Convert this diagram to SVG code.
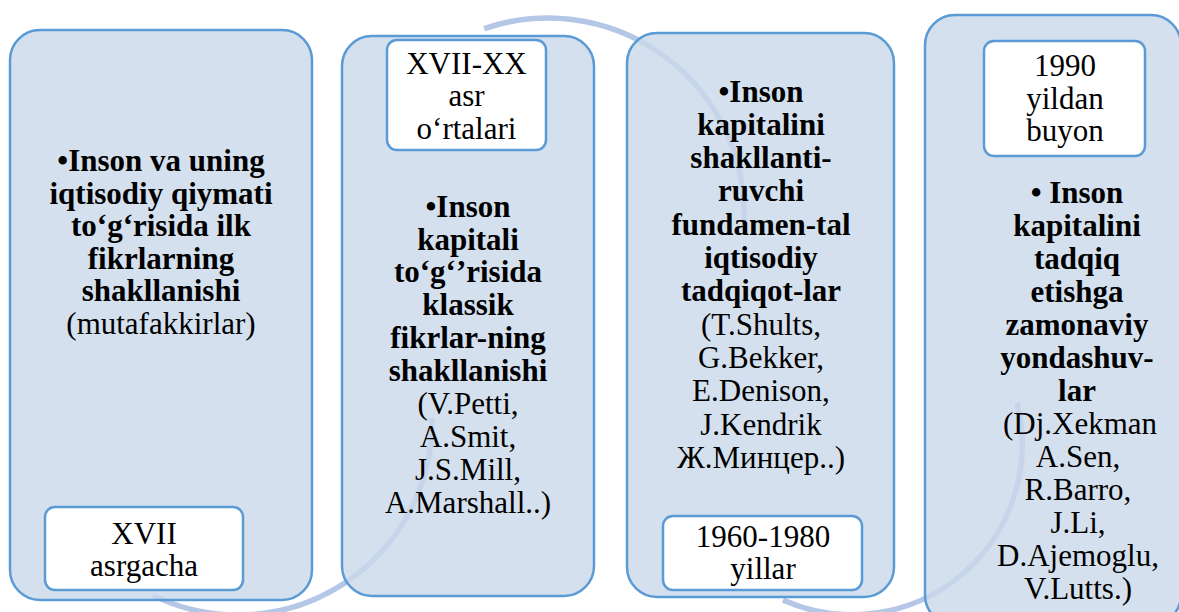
<svg xmlns="http://www.w3.org/2000/svg" width="1179" height="612" viewBox="0 0 1179 612">
<style>
.box{fill:#CBD8EA;fill-opacity:0.8;stroke:#5B9BD5;stroke-width:2.5}
.lbl{fill:#FFFFFF;stroke:#5B9BD5;stroke-width:2.5}
.arc{fill:none;stroke:#B4C7E7;stroke-width:5.5}
.t{font-family:'Liberation Serif','Times New Roman','Tinos','Noto Serif','DejaVu Serif','Nimbus Roman','Nimbus Roman No9 L','FreeSerif','Times',serif;font-size:31px;fill:#000;text-anchor:middle}
.b{font-weight:bold}
</style>
<rect width="1179" height="612" fill="#FFFFFF"/>
<g id="connectors">
<path class="arc" d="M153,595.4 A194,194 0 0 0 432,417.6"/>
<path class="arc" d="M484.2,28.7 A196,196 0 0 1 744,221"/>
<path class="arc" d="M783,600 A170,170 0 0 0 1017,403"/>
</g>
<g id="node1" class="t">
<rect class="box" x="10" y="30" width="302" height="570" rx="30"/>
<text class="b" x="161" y="171">•Inson va uning</text>
<text class="b" x="161" y="204">iqtisodiy qiymati</text>
<text class="b" x="161" y="236">to‘g‘risida ilk</text>
<text class="b" x="161" y="269">fikrlarning</text>
<text class="b" x="161" y="301">shakllanishi</text>
<text x="161" y="334">(mutafakkirlar)</text>
</g>
<g id="label1" class="t">
<rect class="lbl" x="45" y="507" width="198" height="83" rx="10"/>
<text x="144" y="544">XVII</text>
<text x="144" y="576">asrgacha</text>
</g>
<g id="node2" class="t">
<rect class="box" x="342" y="36" width="252" height="560" rx="30"/>
<text class="b" x="468" y="217">•Inson</text>
<text class="b" x="468" y="250">kapitali</text>
<text class="b" x="468" y="282">to‘g‘’risida</text>
<text class="b" x="468" y="315">klassik</text>
<text class="b" x="468" y="348">fikrlar-ning</text>
<text class="b" x="468" y="381">shakllanishi</text>
<text x="468" y="414">(V.Petti,</text>
<text x="468" y="447">A.Smit,</text>
<text x="468" y="480">J.S.Mill,</text>
<text x="468" y="513">A.Marshall..)</text>
</g>
<g id="label2" class="t">
<rect class="lbl" x="387" y="40" width="159" height="110" rx="10"/>
<text x="466.5" y="74">XVII-XX</text>
<text x="466.5" y="106">asr</text>
<text x="466.5" y="139">o‘rtalari</text>
</g>
<g id="node3" class="t">
<rect class="box" x="627" y="33" width="267" height="564" rx="30"/>
<text class="b" x="761" y="102">•Inson</text>
<text class="b" x="761" y="135">kapitalini</text>
<text class="b" x="761" y="168">shakllanti-</text>
<text class="b" x="761" y="201">ruvchi</text>
<text class="b" x="761" y="235">fundamen-tal</text>
<text class="b" x="761" y="268">iqtisodiy</text>
<text class="b" x="761" y="301">tadqiqot-lar</text>
<text x="761" y="335">(T.Shults,</text>
<text x="761" y="368">G.Bekker,</text>
<text x="761" y="401">E.Denison,</text>
<text x="761" y="435">J.Kendrik</text>
<text x="761" y="468">Ж.Минцер..)</text>
</g>
<g id="label3" class="t">
<rect class="lbl" x="663" y="516" width="199" height="74" rx="10"/>
<text x="763" y="547">1960-1980</text>
<text x="763" y="579">yillar</text>
</g>
<g id="node4" class="t">
<rect class="box" x="925" y="15" width="256" height="610" rx="30"/>
<text class="b" x="1077" y="203">• Inson</text>
<text class="b" x="1077" y="236">kapitalini</text>
<text class="b" x="1077" y="269">tadqiq</text>
<text class="b" x="1077" y="302">etishga</text>
<text class="b" x="1077" y="335">zamonaviy</text>
<text class="b" x="1077" y="368">yondashuv-</text>
<text class="b" x="1077" y="401">lar</text>
<text x="1080" y="434">(Dj.Xekman</text>
<text x="1078" y="467">A.Sen,</text>
<text x="1078" y="500">R.Barro,</text>
<text x="1078" y="533">J.Li,</text>
<text x="1078" y="566">D.Ajemoglu,</text>
<text x="1078" y="599">V.Lutts.)</text>
</g>
<g id="label4" class="t">
<rect class="lbl" x="984" y="41" width="161" height="115" rx="10"/>
<text x="1065" y="76">1990</text>
<text x="1065" y="109">yildan</text>
<text x="1065" y="141">buyon</text>
</g>
</svg>
